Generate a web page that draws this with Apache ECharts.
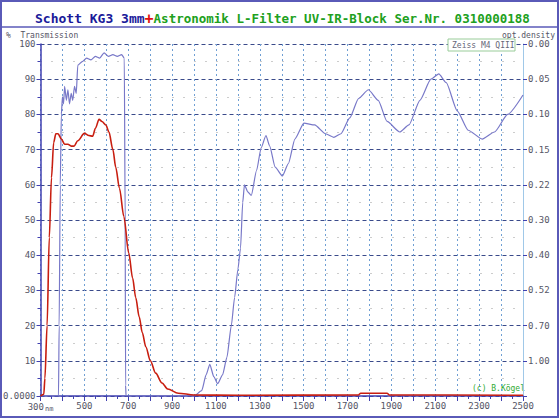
<!DOCTYPE html>
<html>
<head>
<meta charset="utf-8">
<script src="https://cdn.jsdelivr.net/npm/echarts@6/dist/echarts.min.js"></script>
<style>
  html, body { margin: 0; padding: 0; background: #fff; }
  #chart { width: 560px; height: 419px; }
</style>
</head>
<body>
<div id="chart"></div>
<script>
var xTicks = [300, 500, 700, 900, 1100, 1300, 1500, 1700, 1900, 2100, 2300, 2500];
var densityLabels = { 100: '0.00', 90: '0.05', 80: '0.10', 70: '0.15', 60: '0.22', 50: '0.30', 40: '0.40', 30: '0.52', 20: '0.70', 10: '1.00' };

// Schott KG3 3mm
var kg3 = [
  [300, 0], [315, 0.5], [320, 5], [330, 20], [340, 45], [350, 62], [360, 72], [370, 74.5],
  [380, 74.5], [395, 73], [410, 71.5], [425, 71.5], [440, 71], [453, 71], [470, 72.5],
  [500, 74.6], [520, 74], [538, 73.8], [550, 76], [567, 78.6], [580, 78], [598, 77],
  [612, 75], [630, 70], [643, 65], [660, 59], [680, 51], [702, 40.7], [720, 33.5],
  [734, 28], [750, 22.5], [764, 18], [780, 14], [801, 10], [825, 6.5], [854, 3.7],
  [880, 2], [928, 0.8], [1000, 0.3], [1200, 0.2], [1750, 0.3], [1760, 0.8], [1880, 0.8],
  [1890, 0.3], [2500, 0.2]
];

// Astronomik L-Filter UV-IR-Block
var lfilter = [
  [300, 0], [382, 0], [385, 20], [390, 60], [395, 80], [400, 85], [405, 83], [410, 88],
  [418, 84], [425, 87], [432, 83], [440, 86], [447, 84], [455, 88], [463, 86], [470, 94],
  [490, 95], [510, 96], [530, 95.5], [550, 96.5], [570, 96], [590, 97.5], [610, 96.5],
  [630, 97], [650, 96.5], [670, 97], [682, 96], [686, 50], [688, 3], [690, 0],
  [1000, 0], [1035, 1.5], [1055, 6], [1072, 9], [1090, 5.5], [1108, 3.5], [1130, 6],
  [1150, 11], [1170, 20], [1185, 28], [1200, 36], [1212, 42], [1222, 55], [1230, 60],
  [1245, 58], [1261, 57], [1285, 64], [1306, 70.5], [1328, 74], [1345, 71], [1370, 65],
  [1403, 62.5], [1430, 66], [1460, 73], [1501, 77.5], [1550, 77], [1600, 74.5],
  [1637, 73.5], [1670, 74.5], [1710, 79], [1750, 84.5], [1795, 87], [1840, 84],
  [1880, 78], [1938, 75], [1980, 77], [2030, 84], [2080, 90], [2116, 91.5], [2150, 89],
  [2200, 81], [2250, 75.5], [2314, 73], [2370, 75], [2430, 80], [2500, 85.5]
];

var chart = echarts.init(document.getElementById('chart'), null, { renderer: 'svg' });
chart.setOption({
  animation: false,
  textStyle: { fontFamily: 'DejaVu Sans Mono' },
  grid: { left: 34, right: 37, top: 44, bottom: 23 },
  title: {
    left: 30, top: 6,
    text: '{b|Schott KG3 3mm}{r|+}{g|Astronomik L-Filter UV-IR-Block Ser.Nr. 0310000188}',
    textStyle: {
      rich: {
        b: { color: '#1a1a9a', fontSize: 13, fontWeight: 'bold', fontFamily: 'DejaVu Sans Mono' },
        r: { color: '#e01010', fontSize: 15, fontWeight: 'bold', fontFamily: 'DejaVu Sans Mono' },
        g: { color: '#20a020', fontSize: 12.5, fontFamily: 'DejaVu Sans Mono' }
      }
    }
  },
  graphic: [
    { type: 'rect', shape: { x: 1, y: 1, width: 557, height: 416 }, style: { fill: 'none', stroke: '#5a5ab8', lineWidth: 2 } },
    { type: 'line', shape: { x1: 1, y1: 27, x2: 558, y2: 27 }, style: { stroke: '#5a5ab8', lineWidth: 1.5 } },
    { type: 'text', left: 6, top: 31, style: { text: '%  Transmission', fill: '#556', fontSize: 8, fontFamily: 'DejaVu Sans Mono' } },
    { type: 'text', right: 5, top: 31, style: { text: 'opt.density', fill: '#556', fontSize: 8, fontFamily: 'DejaVu Sans Mono' } },
    { type: 'rect', shape: { x: 448, y: 39, width: 67, height: 12 }, style: { fill: '#fff', stroke: '#9c9', lineWidth: 1 }, z: 100 },
    { type: 'text', x: 452, y: 41, style: { text: 'Zeiss M4 QIII', fill: '#667', fontSize: 8, fontFamily: 'DejaVu Sans Mono' }, z: 101 },
    { type: 'text', x: 472, y: 384, style: { text: '(c) B.Kögel', fill: '#3a3', fontSize: 8, fontFamily: 'DejaVu Sans Mono' } }
  ],
  xAxis: {
    type: 'value', min: 300, max: 2500, interval: 100,
    axisLine: { lineStyle: { color: '#4040b0', width: 1.5 } },
    axisTick: { length: 5, lineStyle: { color: '#4040b0' } },
    minorTick: { show: true, splitNumber: 2, length: 3, lineStyle: { color: '#4040b0' } },
    axisLabel: {
      color: '#556', fontSize: 9, margin: 5,
      formatter: function (v) {
        if (xTicks.indexOf(v) < 0) return '';
        return v === 300 ? v + '{u|nm}' : '' + v;
      },
      rich: { u: { fontSize: 7, color: '#556', padding: [4, 0, 0, 1] } }
    },
    splitLine: { show: true, lineStyle: { color: '#6f9fd4', type: [2, 3] } }
  },
  yAxis: [
    {
      type: 'value', min: 0, max: 100, interval: 10,
      axisLine: { show: true, lineStyle: { color: '#4040b0', width: 1.5 } },
      axisTick: { show: true, length: 4, lineStyle: { color: '#4040b0' } },
      minorTick: { show: true, splitNumber: 2, length: 3, lineStyle: { color: '#4040b0' } },
      axisLabel: {
        color: '#556', fontSize: 9, margin: 5,
        formatter: function (v) { return v === 0 ? '0.0000' : '' + v; }
      },
      splitLine: { lineStyle: { color: '#3a4a8a', type: [4, 3] } },
      minorSplitLine: { show: true, lineStyle: { color: '#999', type: [1, 10] } }
    },
    {
      type: 'value', min: 0, max: 100, interval: 10, position: 'right',
      axisLine: { show: true, lineStyle: { color: '#a0c8e8' } },
      axisTick: { show: true, length: 4, lineStyle: { color: '#4040b0' } },
      axisLabel: {
        color: '#556', fontSize: 9, margin: 5,
        formatter: function (v) { return densityLabels[v] || ''; }
      },
      splitLine: { show: false }
    }
  ],
  series: [
    {
      type: 'line', data: lfilter, showSymbol: false, smooth: 0.2, smoothMonotone: 'x',
      lineStyle: { color: '#7878c8', width: 1.2 }, z: 2
    },
    {
      type: 'line', data: kg3, showSymbol: false, smooth: 0.3, smoothMonotone: 'x',
      lineStyle: { color: '#c81e10', width: 1.6 }, z: 3
    }
  ]
});
</script>
</body>
</html>
